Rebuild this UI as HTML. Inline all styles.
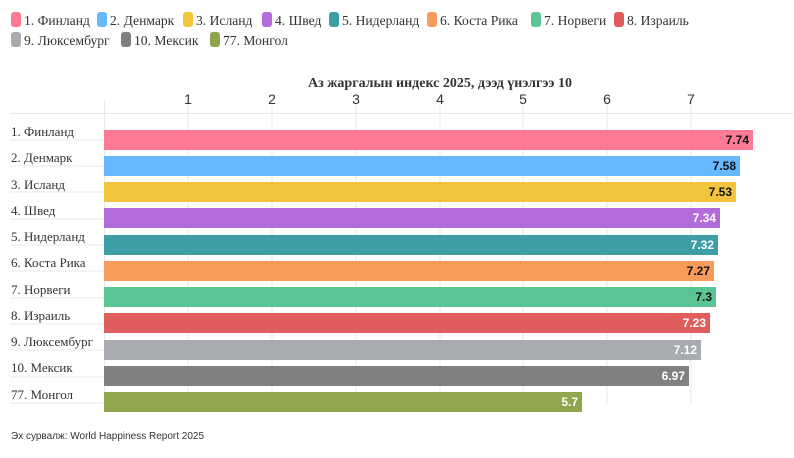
<!DOCTYPE html>
<html><head><meta charset="utf-8"><style>
body{margin:0;background:#fff;width:794px;height:453px;overflow:hidden}
svg text{font-family:"Liberation Serif",serif}
svg text.s{font-family:"Liberation Sans",sans-serif}
</style></head><body>
<svg width="794" height="453" xmlns="http://www.w3.org/2000/svg">
<g font-size="13.6" fill="#333">
<rect x="11" y="12" width="10" height="15" rx="3" fill="#ff7a94"/><text x="24" y="25">1. Финланд</text>
<rect x="97" y="12" width="10" height="15" rx="3" fill="#66b8ff"/><text x="110" y="25">2. Денмарк</text>
<rect x="183" y="12" width="10" height="15" rx="3" fill="#f2c53d"/><text x="196" y="25">3. Исланд</text>
<rect x="262" y="12" width="10" height="15" rx="3" fill="#b36bd9"/><text x="275" y="25">4. Швед</text>
<rect x="329" y="12" width="10" height="15" rx="3" fill="#3d9ea6"/><text x="342" y="25">5. Нидерланд</text>
<rect x="427" y="12" width="10" height="15" rx="3" fill="#f79a5a"/><text x="440" y="25">6. Коста Рика</text>
<rect x="531" y="12" width="10" height="15" rx="3" fill="#5bc493"/><text x="544" y="25">7. Норвеги</text>
<rect x="614" y="12" width="10" height="15" rx="3" fill="#e05d5d"/><text x="627" y="25">8. Израиль</text>
<rect x="11" y="32" width="10" height="15" rx="3" fill="#a8abaf"/><text x="24" y="45">9. Люксембург</text>
<rect x="121" y="32" width="10" height="15" rx="3" fill="#808080"/><text x="134" y="45">10. Мексик</text>
<rect x="210" y="32" width="10" height="15" rx="3" fill="#8fa64d"/><text x="223" y="45">77. Монгол</text>
</g>
<text x="440" y="87" text-anchor="middle" font-size="14" font-weight="bold" fill="#333">Аз жаргалын индекс 2025, дээд үнэлгээ 10</text>
<g stroke="#e8e8e8" stroke-width="1">
<line x1="104.5" y1="100" x2="104.5" y2="405"/>
<line x1="188" y1="100" x2="188" y2="405"/><line x1="272" y1="100" x2="272" y2="405"/>
<line x1="356" y1="100" x2="356" y2="405"/><line x1="440" y1="100" x2="440" y2="405"/>
<line x1="523" y1="100" x2="523" y2="405"/><line x1="607" y1="100" x2="607" y2="405"/>
<line x1="691" y1="100" x2="691" y2="405"/>
<line x1="10" y1="113.5" x2="794" y2="113.5"/><line x1="10" y1="140" x2="104" y2="140"/>
<line x1="10" y1="166" x2="104" y2="166"/><line x1="10" y1="192" x2="104" y2="192"/>
<line x1="10" y1="219" x2="104" y2="219"/><line x1="10" y1="245" x2="104" y2="245"/>
<line x1="10" y1="271" x2="104" y2="271"/><line x1="10" y1="298" x2="104" y2="298"/>
<line x1="10" y1="324" x2="104" y2="324"/><line x1="10" y1="350" x2="104" y2="350"/>
<line x1="10" y1="377" x2="104" y2="377"/><line x1="10" y1="403" x2="104" y2="403"/>
</g>
<g font-size="14" fill="#333" text-anchor="middle">
<text class="s" x="188" y="104">1</text><text class="s" x="272" y="104">2</text><text class="s" x="356" y="104">3</text><text class="s" x="440" y="104">4</text><text class="s" x="523" y="104">5</text><text class="s" x="607" y="104">6</text><text class="s" x="691" y="104">7</text>
</g>
<g font-size="13" fill="#333">
<text x="11" y="136">1. Финланд</text><text x="11" y="162">2. Денмарк</text><text x="11" y="189">3. Исланд</text>
<text x="11" y="215">4. Швед</text><text x="11" y="241">5. Нидерланд</text><text x="11" y="267">6. Коста Рика</text>
<text x="11" y="294">7. Норвеги</text><text x="11" y="320">8. Израиль</text><text x="11" y="346">9. Люксембург</text>
<text x="11" y="372">10. Мексик</text><text x="11" y="399">77. Монгол</text>
</g>
<g>
<rect x="104" y="130" width="649" height="20" fill="#ff7a94"/>
<rect x="104" y="156" width="636" height="20" fill="#66b8ff"/>
<rect x="104" y="182" width="632" height="20" fill="#f2c53d"/>
<rect x="104" y="208" width="616" height="20" fill="#b36bd9"/>
<rect x="104" y="235" width="614" height="20" fill="#3d9ea6"/>
<rect x="104" y="261" width="610" height="20" fill="#f79a5a"/>
<rect x="104" y="287" width="612" height="20" fill="#5bc493"/>
<rect x="104" y="313" width="606" height="20" fill="#e05d5d"/>
<rect x="104" y="340" width="597" height="20" fill="#a8abaf"/>
<rect x="104" y="366" width="585" height="20" fill="#808080"/>
<rect x="104" y="392" width="478" height="20" fill="#8fa64d"/>
</g>
<g font-size="12" font-weight="bold" text-anchor="end">
<text class="s" x="749" y="144" fill="#111">7.74</text>
<text class="s" x="736" y="170" fill="#111">7.58</text>
<text class="s" x="732" y="196" fill="#111">7.53</text>
<text class="s" x="716" y="222" fill="#fff">7.34</text>
<text class="s" x="714" y="249" fill="#fff">7.32</text>
<text class="s" x="710" y="275" fill="#111">7.27</text>
<text class="s" x="712" y="301" fill="#111">7.3</text>
<text class="s" x="706" y="327" fill="#fff">7.23</text>
<text class="s" x="697" y="354" fill="#fff">7.12</text>
<text class="s" x="685" y="380" fill="#fff">6.97</text>
<text class="s" x="578" y="406" fill="#fff">5.7</text>
</g>
<text class="s" x="11" y="439" font-size="10" fill="#333">Эх сурвалж: World Happiness Report 2025</text>
</svg>
</body></html>
